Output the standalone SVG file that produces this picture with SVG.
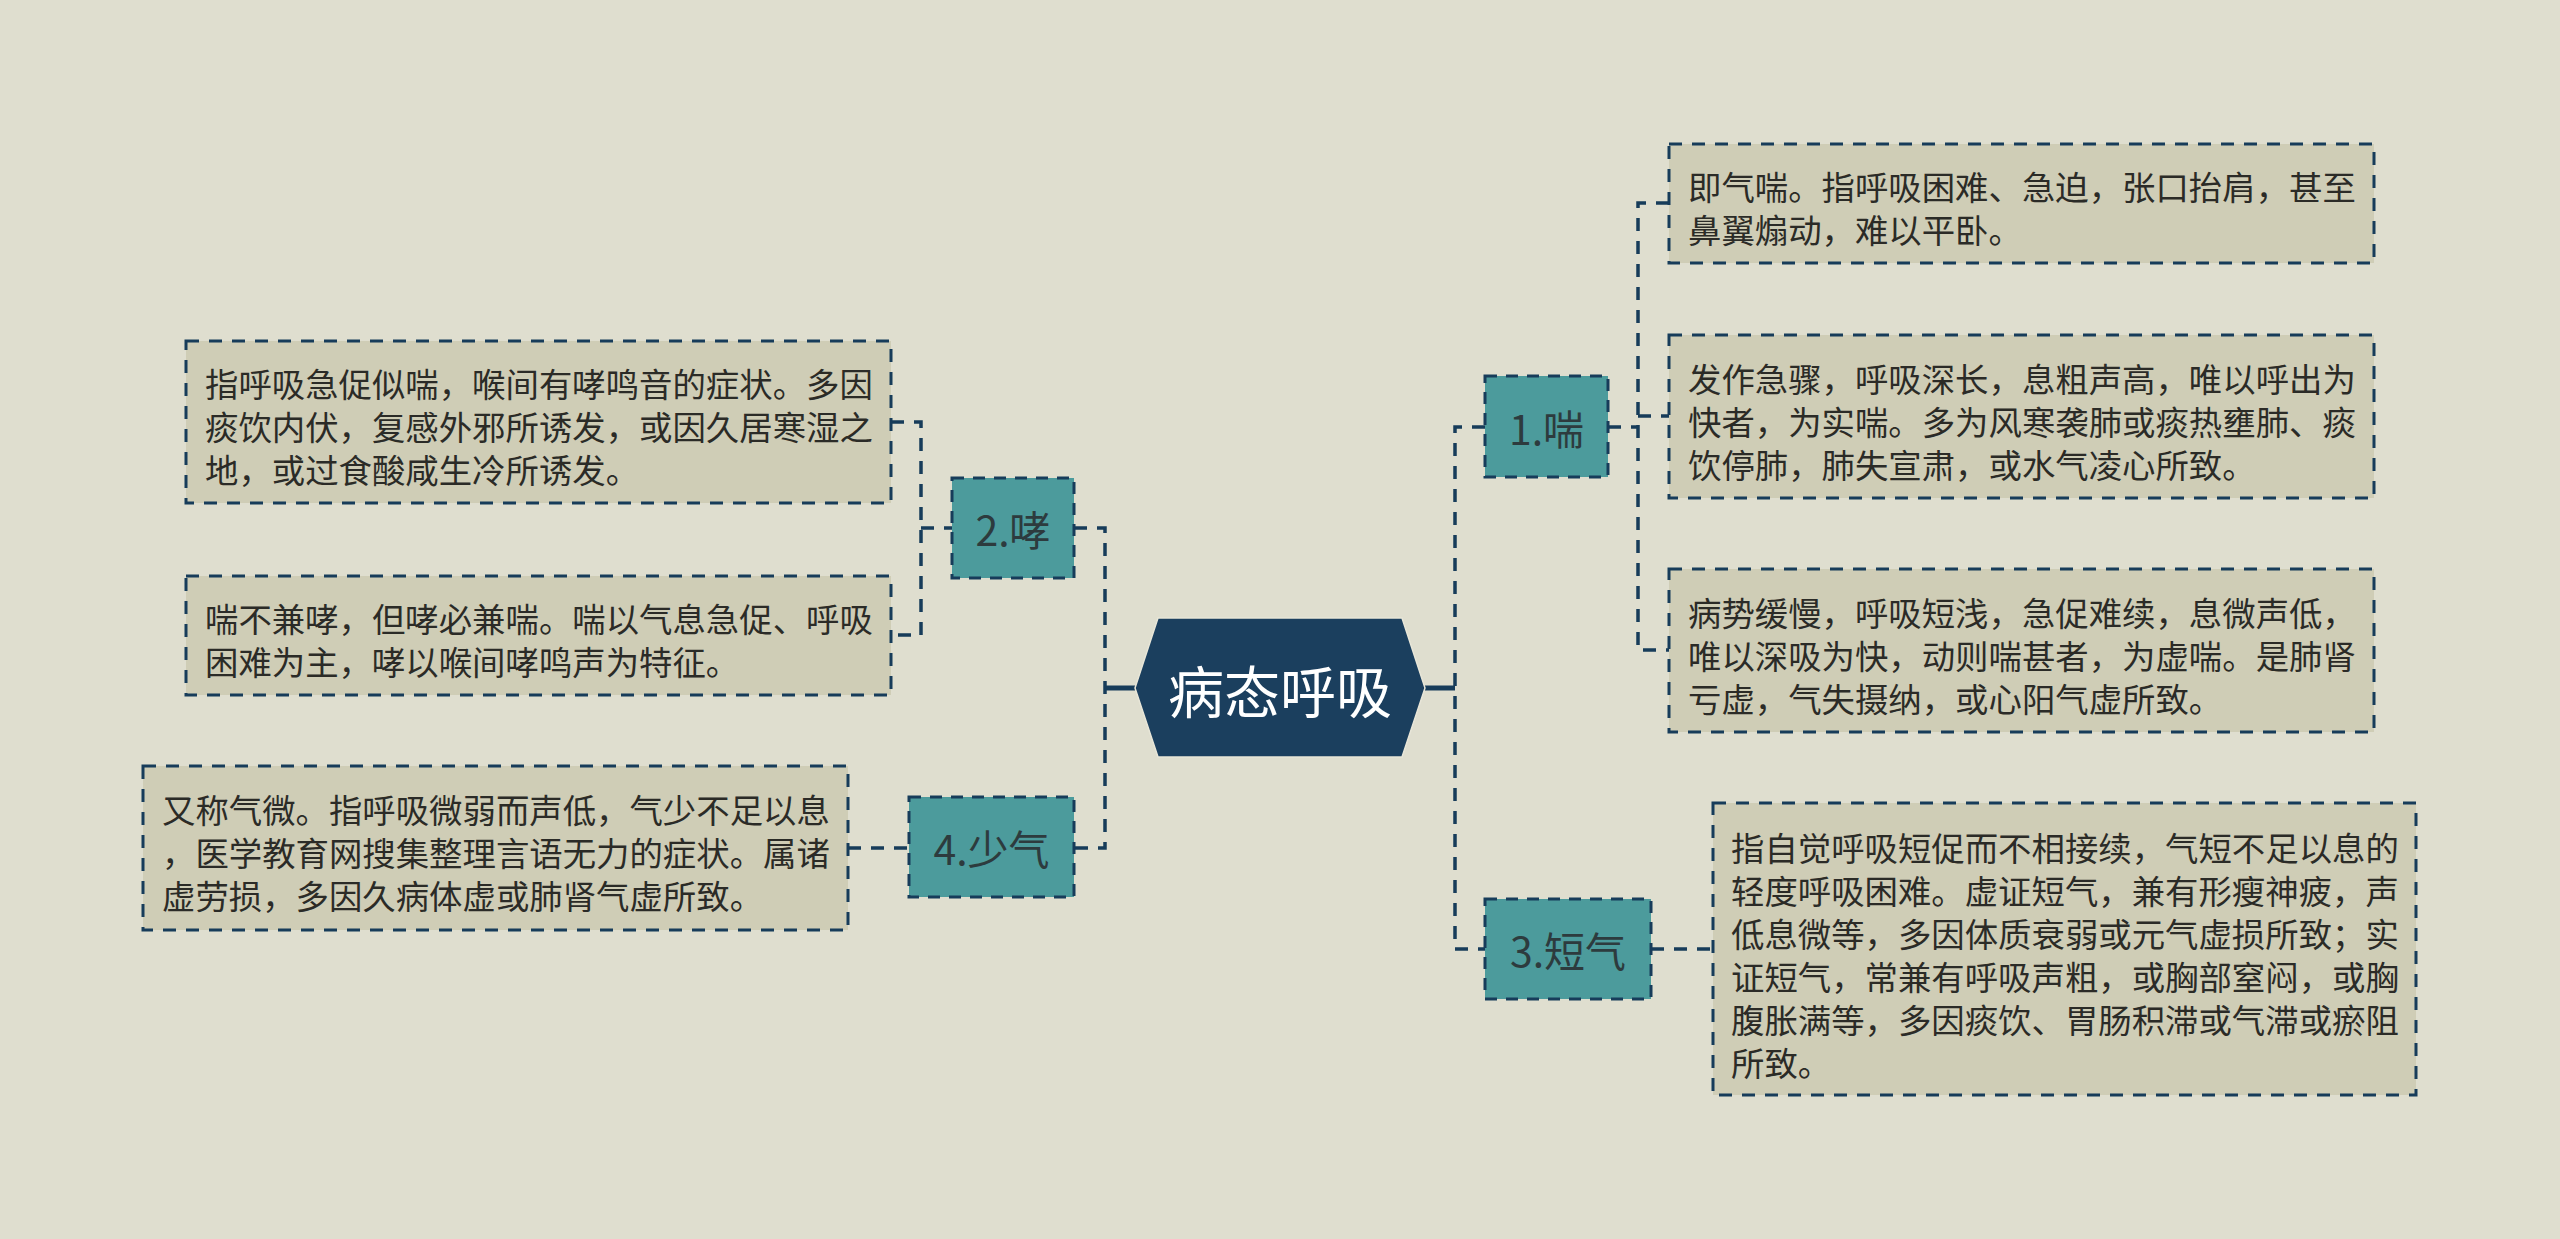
<svg xmlns="http://www.w3.org/2000/svg" width="2560" height="1239" viewBox="0 0 2560 1239">
<style>
.bg{fill:#dfdecf}
.conn{fill:none;stroke:#173c5a;stroke-width:3.5;stroke-dasharray:13 10}
.solid{fill:none;stroke:#173c5a;stroke-width:5}
.sub{fill:#4c9b9c;stroke:#173c5a;stroke-width:3;stroke-dasharray:12 9}
.det{fill:#cfcdb6;stroke:#173c5a;stroke-width:3;stroke-dasharray:13 10}
.root{fill:#1b3f5e;stroke:#e8e6d8;stroke-width:1.5}
.rt{font-family:"Noto Sans CJK SC","Noto Sans",sans-serif;font-size:56px;fill:#ffffff;text-anchor:middle;dominant-baseline:central}
.st{font-family:"Noto Sans CJK SC","Noto Sans",sans-serif;font-size:41px;fill:#2d3b3e;text-anchor:middle;dominant-baseline:central}
.dt{font-family:"Noto Sans CJK SC","Noto Sans",sans-serif;font-size:33.4px;fill:#2b2b27;dominant-baseline:central}
</style>
<rect class="bg" x="0" y="0" width="2560" height="1239"/>
<g id="connectors">
<path class="solid" d="M1105,688 H1135"/>
<path class="solid" d="M1425,688 H1455"/>
<path class="conn" d="M1074,528 H1105 V848 H1074"/>
<path class="conn" d="M1485,427 H1455 V949 H1485"/>
<path class="conn" d="M891,422 H921 V635 H891"/>
<path class="conn" d="M921,528 H952"/>
<path class="conn" d="M848,848 H909"/>
<path class="conn" d="M1669,203 H1638 V650 H1669"/>
<path class="conn" d="M1638,416 H1669"/>
<path class="conn" d="M1608,427 H1638"/>
<path class="conn" d="M1651,949 H1713"/>
</g>
<g id="root">
<polygon class="root" points="1135,688 1158,618 1402,618 1425,688 1402,757 1158,757"/>
<text class="rt" x="1280" y="688">病态呼吸</text>
</g>
<g id="n1">
<rect class="sub" x="1485" y="376" width="123" height="101"/>
<text class="st" x="1546.5" y="427">1.喘</text>
</g>
<g id="n2">
<rect class="sub" x="952" y="478" width="122" height="100"/>
<text class="st" x="1013" y="528">2.哮</text>
</g>
<g id="n3">
<rect class="sub" x="1485" y="899" width="166" height="100"/>
<text class="st" x="1568" y="949">3.短气</text>
</g>
<g id="n4">
<rect class="sub" x="909" y="797" width="165" height="100"/>
<text class="st" x="991.5" y="847">4.少气</text>
</g>
<g id="d1a">
<rect class="det" x="1669" y="144" width="705" height="119"/>
<text class="dt" x="1688"><tspan x="1688" y="185">即气喘。指呼吸困难、急迫，张口抬肩，甚至</tspan><tspan x="1688" y="228">鼻翼煽动，难以平卧。</tspan></text>
</g>
<g id="d1b">
<rect class="det" x="1669" y="335" width="705" height="163"/>
<text class="dt"><tspan x="1688" y="376.5">发作急骤，呼吸深长，息粗声高，唯以呼出为</tspan><tspan x="1688" y="419.5">快者，为实喘。多为风寒袭肺或痰热壅肺、痰</tspan><tspan x="1688" y="462.5">饮停肺，肺失宣肃，或水气凌心所致。</tspan></text>
</g>
<g id="d1c">
<rect class="det" x="1669" y="569" width="705" height="163"/>
<text class="dt"><tspan x="1688" y="610.5">病势缓慢，呼吸短浅，急促难续，息微声低，</tspan><tspan x="1688" y="653.5">唯以深吸为快，动则喘甚者，为虚喘。是肺肾</tspan><tspan x="1688" y="696.5">亏虚，气失摄纳，或心阳气虚所致。</tspan></text>
</g>
<g id="d3">
<rect class="det" x="1713" y="803" width="703" height="292"/>
<text class="dt"><tspan x="1731" y="846">指自觉呼吸短促而不相接续，气短不足以息的</tspan><tspan x="1731" y="889">轻度呼吸困难。虚证短气，兼有形瘦神疲，声</tspan><tspan x="1731" y="932">低息微等，多因体质衰弱或元气虚损所致；实</tspan><tspan x="1731" y="975">证短气，常兼有呼吸声粗，或胸部窒闷，或胸</tspan><tspan x="1731" y="1018">腹胀满等，多因痰饮、胃肠积滞或气滞或瘀阻</tspan><tspan x="1731" y="1061">所致。</tspan></text>
</g>
<g id="d2a">
<rect class="det" x="186" y="341" width="705" height="162"/>
<text class="dt"><tspan x="205" y="382">指呼吸急促似喘，喉间有哮鸣音的症状。多因</tspan><tspan x="205" y="425">痰饮内伏，复感外邪所诱发，或因久居寒湿之</tspan><tspan x="205" y="468">地，或过食酸咸生冷所诱发。</tspan></text>
</g>
<g id="d2b">
<rect class="det" x="186" y="576" width="705" height="119"/>
<text class="dt"><tspan x="205" y="617">喘不兼哮，但哮必兼喘。喘以气息急促、呼吸</tspan><tspan x="205" y="660">困难为主，哮以喉间哮鸣声为特征。</tspan></text>
</g>
<g id="d4">
<rect class="det" x="143" y="766" width="705" height="164"/>
<text class="dt"><tspan x="162" y="808">又称气微。指呼吸微弱而声低，气少不足以息</tspan><tspan x="162" y="851">，医学教育网搜集整理言语无力的症状。属诸</tspan><tspan x="162" y="894">虚劳损，多因久病体虚或肺肾气虚所致。</tspan></text>
</g>
</svg>
